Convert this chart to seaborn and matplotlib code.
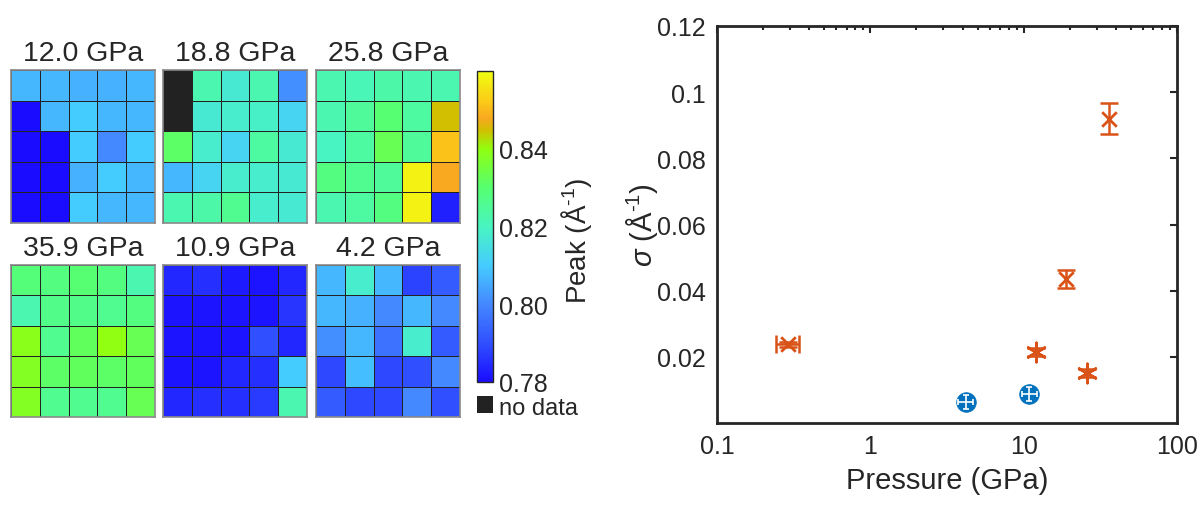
import numpy as np
import pandas as pd
import matplotlib
matplotlib.use("Agg")
import matplotlib.pyplot as plt
import seaborn as sns
from matplotlib.colors import LinearSegmentedColormap, Normalize
from matplotlib.cm import ScalarMappable
from matplotlib.ticker import FixedLocator, FixedFormatter, LogLocator, NullFormatter

# ---------------- data ----------------
nan = np.nan
panel_titles = ["12.0 GPa", "18.8 GPa", "25.8 GPa", "35.9 GPa", "10.9 GPa", "4.2 GPa"]

peak_12_0 = [[0.807, 0.807, 0.806, 0.806, 0.807],
             [0.780, 0.807, 0.810, 0.807, 0.807],
             [0.780, 0.780, 0.810, 0.800, 0.810],
             [0.780, 0.780, 0.806, 0.810, 0.807],
             [0.780, 0.780, 0.810, 0.807, 0.807]]
peak_18_8 = [[nan, 0.822, 0.817, 0.822, 0.801],
             [nan, 0.817, 0.818, 0.819, 0.812],
             [0.831, 0.818, 0.812, 0.824, 0.817],
             [0.807, 0.812, 0.818, 0.818, 0.817],
             [0.822, 0.823, 0.826, 0.818, 0.817]]
peak_25_8 = [[0.822, 0.821, 0.823, 0.822, 0.822],
             [0.822, 0.825, 0.830, 0.824, 0.845],
             [0.820, 0.824, 0.833, 0.825, 0.851],
             [0.828, 0.826, 0.825, 0.858, 0.848],
             [0.822, 0.824, 0.828, 0.858, 0.783]]
peak_35_9 = [[0.829, 0.828, 0.830, 0.828, 0.822],
             [0.822, 0.827, 0.827, 0.826, 0.828],
             [0.839, 0.826, 0.832, 0.840, 0.833],
             [0.838, 0.831, 0.832, 0.831, 0.832],
             [0.838, 0.826, 0.826, 0.826, 0.833]]
peak_10_9 = [[0.784, 0.785, 0.782, 0.781, 0.784],
             [0.781, 0.781, 0.781, 0.781, 0.786],
             [0.781, 0.781, 0.781, 0.790, 0.784],
             [0.781, 0.781, 0.784, 0.785, 0.810],
             [0.784, 0.785, 0.785, 0.787, 0.822]]
peak_4_2 = [[0.807, 0.818, 0.807, 0.788, 0.792],
            [0.807, 0.806, 0.800, 0.807, 0.800],
            [0.801, 0.807, 0.796, 0.818, 0.792],
            [0.789, 0.808, 0.789, 0.790, 0.800],
            [0.792, 0.789, 0.789, 0.800, 0.790]]
panel_values = [peak_12_0, peak_18_8, peak_25_8, peak_35_9, peak_10_9, peak_4_2]

cbar_ticks = [0.78, 0.80, 0.82, 0.84]
cbar_ticklabels = ["0.78", "0.80", "0.82", "0.84"]

# scatter: orange series
p_orange = [0.29, 12.0, 18.8, 25.8, 35.9]
s_orange = [0.0238, 0.0214, 0.0434, 0.0151, 0.0920]
s_orange_err = [0.0008, 0.0012, 0.0027, 0.0012, 0.0047]
p_orange_lo = [0.243, 12.0, 18.8, 25.8, 35.9]
p_orange_hi = [0.343, 12.0, 18.8, 25.8, 35.9]
m_orange = ["x", "ast", "x", "ast", "x"]
# blue series
p_blue = [4.2, 10.9]
s_blue = [0.0063, 0.0087]
s_blue_err = [0.0022, 0.0022]
p_blue_lo = [3.75, 9.75]
p_blue_hi = [4.70, 12.2]

xticks = [0.1, 1, 10, 100]
xticklabels = ["0.1", "1", "10", "100"]
yticks = [0.02, 0.04, 0.06, 0.08, 0.10, 0.12]
yticklabels = ["0.02", "0.04", "0.06", "0.08", "0.1", "0.12"]

# ---------------- style ----------------
sns.set_theme(style="white")
plt.rcParams['font.family'] = ['Liberation Sans', 'DejaVu Sans']
plt.rcParams['mathtext.fontset'] = 'custom'
plt.rcParams['mathtext.rm'] = 'Liberation Sans'
plt.rcParams['mathtext.it'] = 'Liberation Sans:italic'
TXT = "#262626"
plt.rcParams['text.color'] = TXT
plt.rcParams['axes.labelcolor'] = TXT
plt.rcParams['xtick.color'] = TXT
plt.rcParams['ytick.color'] = TXT

W, H = 1204, 506
fig = plt.figure(figsize=(W / 100, H / 100), dpi=100)


def box(x0, y0, x1, y1):
    return [x0 / W, 1 - y1 / H, (x1 - x0) / W, (y1 - y0) / H]


vmin, vmax = 0.78, 0.86
nodes = [(0.00, "#1a0dff"), (0.125, "#3050ff"), (0.25, "#4488ff"), (0.375, "#45ccff"),
         (0.50, "#48f5c0"), (0.625, "#55ff70"), (0.75, "#90ff10"), (0.81, "#d0c000"),
         (0.85, "#f8a820"), (0.90, "#fcc818"), (1.00, "#f0ff10")]
cmap = LinearSegmentedColormap.from_list("peak", nodes)

col_x = [(11, 155), (163, 307), (316, 460)]
row_y = [(71, 224), (266, 418)]
for i, (title, vals) in enumerate(zip(panel_titles, panel_values)):
    r, c = divmod(i, 3)
    x0, x1 = col_x[c]
    y0, y1 = row_y[r]
    ax = fig.add_axes(box(x0, y0, x1, y1))
    ax.set_facecolor("#222222")
    df = pd.DataFrame(vals)
    sns.heatmap(df, ax=ax, cmap=cmap, vmin=vmin, vmax=vmax, cbar=False,
                linewidths=0.45, linecolor="#222222", xticklabels=False, yticklabels=False)
    for sp in ax.spines.values():
        sp.set_visible(True)
        sp.set_color("#8a8a8a")
        sp.set_linewidth(1.2)
    ax.set_title(title, fontsize=20.5, color=TXT, pad=7)

# colorbar
cax = fig.add_axes(box(477, 72, 493, 383))
sm = ScalarMappable(norm=Normalize(vmin, vmax), cmap=cmap)
cb = fig.colorbar(sm, cax=cax)
cb.set_ticks(cbar_ticks)
cb.set_ticklabels(cbar_ticklabels)
cb.outline.set_edgecolor("#262626")
cb.outline.set_linewidth(1.0)
cax.tick_params(axis="y", direction="in", length=3, labelsize=18, pad=4, colors=TXT)
fig.text(577 / W, 1 - 241 / H, r"Peak (Å$^{\text{-1}}$)", rotation=90, ha="center",
         va="center", fontsize=20, color=TXT)

# no data box
nax = fig.add_axes(box(477, 397, 493, 414))
nax.set_facecolor("#222222")
nax.set_xticks([]); nax.set_yticks([])
for sp in nax.spines.values():
    sp.set_visible(False)
fig.text(499 / W, 1 - 409 / H, "no data", ha="left", va="center", fontsize=17, color=TXT)

# ---------------- scatter ----------------
ax2 = fig.add_axes(box(717, 27, 1177, 424))
ORANGE = "#D95319"
BLUE = "#0072BD"
ast = (6, 2, 0)

for p, s, e, lo, hi in zip(p_orange, s_orange, s_orange_err, p_orange_lo, p_orange_hi):
    xerr = [[p - lo], [hi - p]] if hi > lo else None
    ax2.errorbar([p], [s], yerr=[e], xerr=xerr, fmt="none", ecolor=ORANGE,
                 elinewidth=1.8, capsize=6.5, capthick=1.8, zorder=3)

df_or = pd.DataFrame({"p": p_orange, "s": s_orange, "m": m_orange})
for mk, sub in df_or.groupby("m"):
    sns.scatterplot(data=sub, x="p", y="s", ax=ax2, marker=("x" if mk == "x" else ast),
                    s=(110 if mk == "x" else 190), color=ORANGE, linewidth=2.0,
                    edgecolor=ORANGE, zorder=4, legend=False)

df_bl = pd.DataFrame({"p": p_blue, "s": s_blue})
sns.scatterplot(data=df_bl, x="p", y="s", ax=ax2, marker="o", s=200, color=BLUE,
                edgecolor=BLUE, linewidth=0.5, zorder=5, legend=False)
blue_xerr = [np.array(p_blue) - np.array(p_blue_lo), np.array(p_blue_hi) - np.array(p_blue)]
ax2.errorbar(p_blue, s_blue, yerr=s_blue_err, xerr=blue_xerr, fmt="none",
             ecolor="white", elinewidth=1.2, capsize=2.2, capthick=1.2, zorder=6)

ax2.set_xscale("log")
ax2.set_xlim(0.1, 100)
ax2.set_ylim(0, 0.12)
ax2.xaxis.set_major_locator(FixedLocator(xticks))
ax2.xaxis.set_major_formatter(FixedFormatter(xticklabels))
ax2.xaxis.set_minor_locator(LogLocator(base=10, subs=np.arange(2, 10)))
ax2.xaxis.set_minor_formatter(NullFormatter())
ax2.yaxis.set_major_locator(FixedLocator(yticks))
ax2.yaxis.set_major_formatter(FixedFormatter(yticklabels))
ax2.tick_params(which="both", direction="in", top=True, right=True, labelsize=18,
                colors=TXT, width=1.5)
ax2.tick_params(which="major", length=5, pad=8)
ax2.tick_params(which="minor", length=3)
for sp in ax2.spines.values():
    sp.set_visible(True)
    sp.set_color(TXT)
    sp.set_linewidth(2.0)
ax2.grid(False)
ax2.set_xlabel("Pressure (GPa)", fontsize=21, labelpad=6)
ax2.set_ylabel(r"$\sigma$ (Å$^{\text{-1}}$)", fontsize=21)
ax2.yaxis.set_label_coords(-0.125, 0.5)

fig.savefig("out.png", dpi=100)
